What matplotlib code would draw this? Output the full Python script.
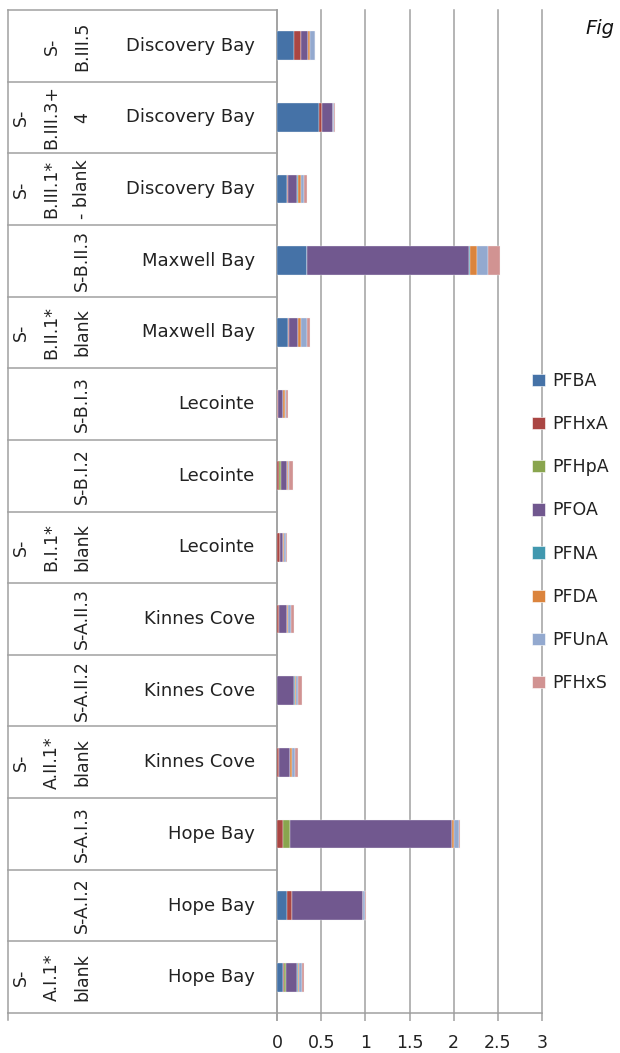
import matplotlib
matplotlib.use("Agg")
import matplotlib.pyplot as plt
import numpy as np
from matplotlib.patches import Patch
from matplotlib.transforms import blended_transform_factory

# ---- data (top-to-bottom order as displayed) ----
sites = ["Discovery Bay", "Discovery Bay", "Discovery Bay", "Maxwell Bay", "Maxwell Bay",
         "Lecointe", "Lecointe", "Lecointe", "Kinnes Cove", "Kinnes Cove", "Kinnes Cove",
         "Hope Bay", "Hope Bay", "Hope Bay"]
samples = ["S-\nB.III.5", "S-\nB.III.3+\n4", "S-\nB.III.1*\n- blank", "S-B.II.3",
           "S-\nB.II.1*\nblank", "S-B.I.3", "S-B.I.2", "S-\nB.I.1*\nblank", "S-A.II.3",
           "S-A.II.2", "S-\nA.II.1*\nblank", "S-A.I.3", "S-A.I.2", "S-\nA.I.1*\nblank"]
compounds = ["PFBA", "PFHxA", "PFHpA", "PFOA", "PFNA", "PFDA", "PFUnA", "PFHxS"]
PFBA = [0.19, 0.475, 0.11, 0.335, 0.128, 0, 0, 0, 0, 0, 0, 0, 0.113, 0.07]
PFHxA = [0.08, 0.04, 0.02, 0, 0.005, 0.015, 0.02, 0.035, 0.02, 0.005, 0.025, 0.068, 0.06, 0.01]
PFHpA = [0, 0, 0, 0, 0, 0, 0.02, 0, 0, 0, 0, 0.083, 0, 0.02]
PFOA = [0.08, 0.12, 0.10, 1.84, 0.10, 0.05, 0.07, 0.03, 0.09, 0.19, 0.12, 1.83, 0.795, 0.13]
PFNA = [0.005, 0, 0.005, 0.005, 0.005, 0.005, 0.005, 0.005, 0.005, 0.005, 0.005, 0.005, 0.005, 0.005]
PFDA = [0.02, 0, 0.035, 0.087, 0.038, 0.015, 0.005, 0.005, 0.015, 0.015, 0.015, 0.02, 0.005, 0.015]
PFUnA = [0.05, 0.005, 0.04, 0.117, 0.06, 0.02, 0.02, 0.025, 0.03, 0.025, 0.04, 0.055, 0.015, 0.035]
PFHxS = [0.01, 0.02, 0.035, 0.14, 0.04, 0.02, 0.04, 0.015, 0.035, 0.04, 0.03, 0.01, 0.015, 0.02]
series = [PFBA, PFHxA, PFHpA, PFOA, PFNA, PFDA, PFUnA, PFHxS]
colors = ["#4572A7", "#AA4643", "#89A54E", "#71588F", "#4198AF", "#DB843D", "#93A9CF", "#D19392"]
xticks = [0, 0.5, 1, 1.5, 2, 2.5, 3]
xticklabels = ["0", "0.5", "1", "1.5", "2", "2.5", "3"]

W, H = 620, 1053
fig = plt.figure(figsize=(W / 100, H / 100), dpi=100)
ax_left, ax_right, ax_top, ax_bot = 277, 542, 10, 1013
ax = fig.add_axes([ax_left / W, 1 - ax_bot / H, (ax_right - ax_left) / W, (ax_bot - ax_top) / H])

n = len(sites)
ypos = np.arange(n)[::-1]
left = np.zeros(n)
for vals, c, name in zip(series, colors, compounds):
    v = np.array(vals)
    ax.barh(ypos, v, left=left, height=0.4, color=c, edgecolor="#F4F4F8", linewidth=0.25,
            label=name, zorder=3)
    left += v

ax.set_xlim(0, 3)
ax.set_ylim(-0.5, n - 0.5)
gridc = "#A0A0A0"
ax.set_xticks(xticks)
ax.set_xticklabels(xticklabels, fontsize=12.5, color="#222222")
ax.tick_params(axis="x", length=6, width=1.1, color=gridc, pad=9)
ax.set_yticks([])
ax.grid(axis="x", color=gridc, linewidth=1.1, zorder=0)
for gl in ax.get_xgridlines():
    gl.set_clip_on(False)
for s in ["top", "right"]:
    ax.spines[s].set_visible(False)
for s in ["left", "bottom"]:
    ax.spines[s].set_color(gridc)
    ax.spines[s].set_linewidth(1.1)

# category table on the left
tr = blended_transform_factory(ax.transAxes, ax.transData)
xl = (8 - ax_left) / (ax_right - ax_left)
for b in np.arange(-0.5, n, 1.0):
    ax.plot([xl, 0], [b, b], transform=tr, color=gridc, lw=1.1, clip_on=False)
ax.plot([xl, xl], [-0.5, n - 0.5], transform=tr, color=gridc, lw=1.1, clip_on=False)
for xx in [xl, 0]:
    ax.plot([xx, xx], [-0.5, -0.5 - 0.1], transform=tr, color=gridc, lw=1.1, clip_on=False)

x_site = (255 - ax_left) / (ax_right - ax_left)
x_samp = (91 - ax_left) / (ax_right - ax_left)
for y, s, smp in zip(ypos, sites, samples):
    ax.text(x_site, y, s, transform=tr, ha="right", va="center", fontsize=13, color="#222222")
    ax.text(x_samp, y, smp, transform=tr, ha="right", va="center", rotation=90,
            multialignment="center", linespacing=1.9, fontsize=12.5, color="#222222")

handles = [Patch(facecolor=c, edgecolor="white", linewidth=0.4) for c in colors]
fig.legend(handles, compounds, loc="center left", bbox_to_anchor=(532 / W, 1 - 532 / H),
           frameon=False, fontsize=12.5, handlelength=0.72, handleheight=0.72,
           handletextpad=0.42, labelspacing=1.45, borderpad=0, borderaxespad=0,
           labelcolor="#222222")

fig.text(585 / W, 1 - 34 / H, "Fig", fontsize=14, style="italic", color="#111111", va="baseline")

fig.savefig("out.png", dpi=100)
